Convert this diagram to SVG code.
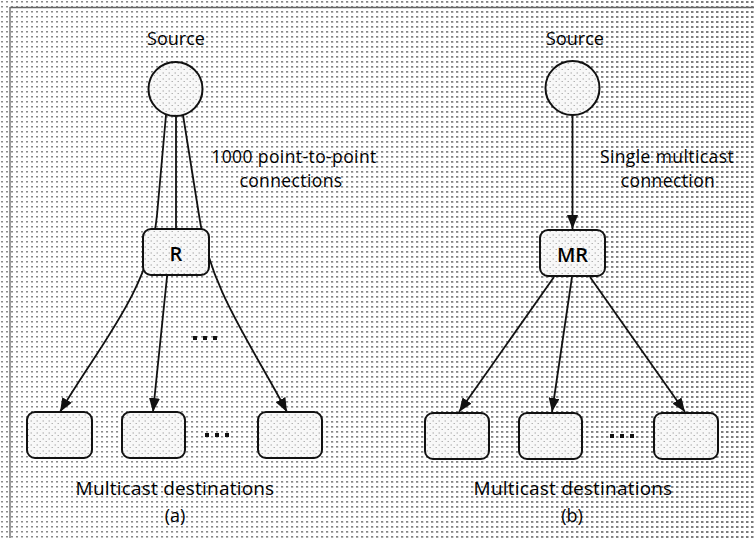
<svg xmlns="http://www.w3.org/2000/svg" width="754" height="538" viewBox="0 0 754 538">
  <style>
    .lbl { font-family: "Open Sans", "Liberation Sans", sans-serif; font-size: 18px; font-weight: 500; fill: #000; text-anchor: middle; }
    .note { font-size: 17.5px; letter-spacing: 0.4px; }
    .big { font-size: 19px; letter-spacing: 0.2px; }
    .rtr { font-size: 20px; font-weight: 600; }
    .node { fill: url(#nodeTex); stroke: #111; stroke-width: 2; }
    .edge { fill: none; stroke: #111; stroke-width: 1.8; }
    .dots { fill: #111; }
  </style>
  <defs>
    <!-- halftone screen of the page -->
    <pattern id="screenLight" width="5" height="5" patternUnits="userSpaceOnUse">
      <rect x="1" y="1" width="2" height="1.5" fill="#8c8c8c"/>
    </pattern>
    <pattern id="screenDark" width="5" height="5" patternUnits="userSpaceOnUse">
      <rect x="1" y="1" width="2.5" height="2" fill="#7a7a7a"/>
    </pattern>
    <!-- finer, paler speckle inside the nodes -->
    <pattern id="nodeTex" width="6" height="6" patternUnits="userSpaceOnUse">
      <rect width="6" height="6" fill="#f8f8f8"/>
      <rect x="0.5" y="0.5" width="1.5" height="1" fill="#a8a8a8"/>
      <rect x="3.5" y="3" width="1.5" height="1" fill="#b4b4b4"/>
    </pattern>
    <linearGradient id="fadeRight" x1="0" y1="0" x2="1" y2="0">
      <stop offset="0" stop-color="#fff" stop-opacity="0"/>
      <stop offset="0.45" stop-color="#fff" stop-opacity="0.3"/>
      <stop offset="1" stop-color="#fff" stop-opacity="1"/>
    </linearGradient>
    <mask id="rightMask">
      <rect width="754" height="538" fill="url(#fadeRight)"/>
    </mask>
    <marker id="arrow" viewBox="0 0 14 11" refX="14" refY="5.5" markerWidth="14" markerHeight="11" markerUnits="userSpaceOnUse" orient="auto">
      <path d="M0,0 L14,5.5 L0,11 Z" fill="#111"/>
    </marker>
  </defs>

  <!-- page background -->
  <rect width="754" height="538" fill="#ffffff"/>
  <rect width="754" height="538" fill="url(#screenLight)"/>
  <rect width="754" height="538" fill="url(#screenDark)" mask="url(#rightMask)"/>

  <!-- frame edges -->
  <line x1="10" y1="7.5" x2="754" y2="7.5" stroke="#666" stroke-width="1.5"/>
  <line x1="10" y1="7" x2="10" y2="538" stroke="#777" stroke-width="1.5"/>

  <!-- connectors -->
  <g id="connectors">
    <!-- (a) point-to-point: one path per destination, each passing through R -->
    <path class="edge" d="M166,115 L157,215 C150,290 96,350 60,412" marker-end="url(#arrow)"/>
    <path class="edge" d="M176,115 L176,240 L167,277 L153,412" marker-end="url(#arrow)"/>
    <path class="edge" d="M183,115 L199,215 C210,290 252,345 287,412" marker-end="url(#arrow)"/>
    <!-- (b) single multicast connection -->
    <path class="edge" d="M572.5,115 L572.5,229" marker-end="url(#arrow)"/>
    <path class="edge" d="M554,277 L459,412" marker-end="url(#arrow)"/>
    <path class="edge" d="M572,277 L552,412" marker-end="url(#arrow)"/>
    <path class="edge" d="M590,277 L685,412" marker-end="url(#arrow)"/>
  </g>

  <!-- (a) -->
  <g id="sourceA">
    <circle class="node" cx="175.5" cy="89" r="27"/>
    <text class="lbl" x="176" y="45">Source</text>
  </g>
  <g id="routerR">
    <rect class="node" x="143" y="229" width="66" height="46" rx="8"/>
    <text class="lbl rtr" x="176" y="261">R</text>
  </g>
  <g id="destA1"><rect class="node" x="27" y="412" width="65" height="46" rx="8"/></g>
  <g id="destA2"><rect class="node" x="122" y="412" width="63" height="46" rx="8"/></g>
  <g id="destA3"><rect class="node" x="258" y="412" width="64" height="46" rx="8"/></g>
  <g id="labelsA">
    <text class="lbl note" x="294" y="163">1000 point-to-point</text>
    <text class="lbl note" x="291" y="187">connections</text>
    <rect class="dots" x="193" y="336" width="4" height="4"/>
    <rect class="dots" x="203" y="336" width="4" height="4"/>
    <rect class="dots" x="213" y="336" width="4" height="4"/>
    <rect class="dots" x="205" y="433" width="4" height="4"/>
    <rect class="dots" x="215" y="433" width="4" height="4"/>
    <rect class="dots" x="225" y="433" width="4" height="4"/>
    <text class="lbl big" x="175" y="495">Multicast destinations</text>
    <text class="lbl" x="175" y="522">(a)</text>
  </g>

  <!-- (b) -->
  <g id="sourceB">
    <circle class="node" cx="572.5" cy="88" r="27"/>
    <text class="lbl" x="575" y="45">Source</text>
  </g>
  <g id="routerMR">
    <rect class="node" x="540" y="230" width="65" height="46" rx="8"/>
    <text class="lbl rtr" x="572.5" y="262">MR</text>
  </g>
  <g id="destB1"><rect class="node" x="425" y="413" width="64" height="46" rx="8"/></g>
  <g id="destB2"><rect class="node" x="519" y="413" width="63" height="46" rx="8"/></g>
  <g id="destB3"><rect class="node" x="654" y="413" width="64" height="46" rx="8"/></g>
  <g id="labelsB">
    <text class="lbl note" x="667" y="163">Single multicast</text>
    <text class="lbl note" x="668" y="187">connection</text>
    <rect class="dots" x="610" y="434" width="4" height="4"/>
    <rect class="dots" x="620" y="434" width="4" height="4"/>
    <rect class="dots" x="630" y="434" width="4" height="4"/>
    <text class="lbl big" x="573" y="495">Multicast destinations</text>
    <text class="lbl" x="572" y="522">(b)</text>
  </g>
</svg>
